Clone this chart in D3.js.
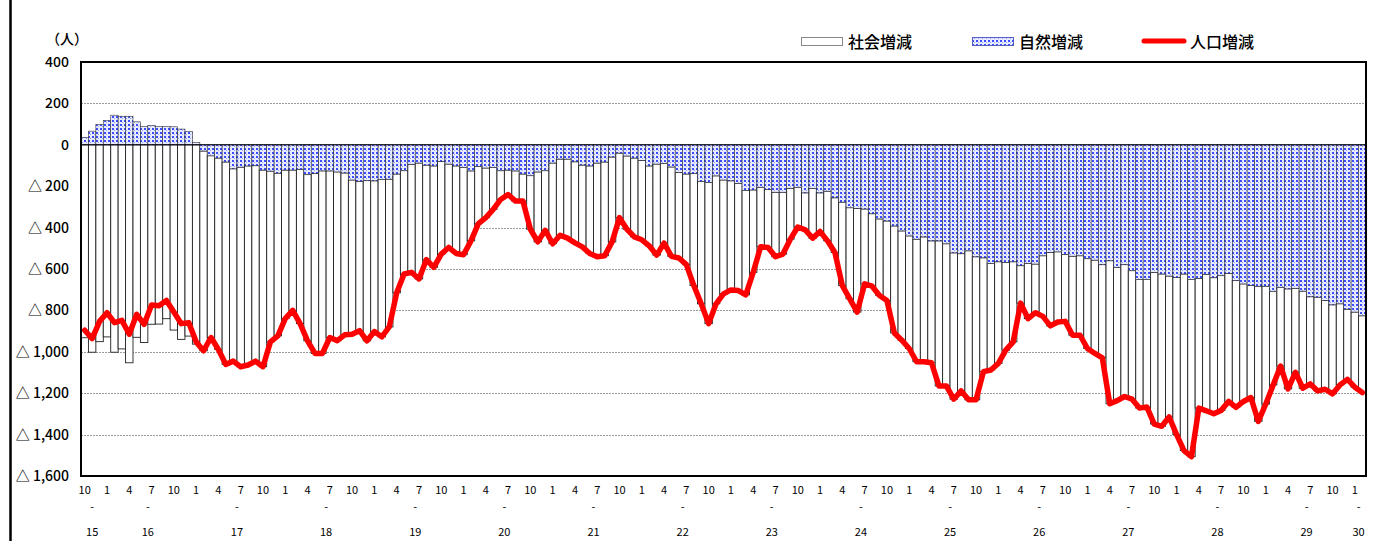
<!DOCTYPE html>
<html><head><meta charset="utf-8">
<script src="https://cdn.jsdelivr.net/npm/d3@7"></script>
<style>
body{margin:0;background:#fff;}
svg{display:block;font-family:"Noto Sans CJK JP","Noto Sans",sans-serif;}
</style>
</head><body>
<svg id="c" width="1382" height="541"></svg>
<script>
// ---- data (Heisei years, monthly, Oct H15 .. Feb H30) ----
const startYear = 15, startMonth = 10;
const monthTickLabels = [10, 1, 4, 7];
const yearLabels = [15,16,17,18,19,20,21,22,23,24,25,26,27,28,29,30];
const yTicks = [400,200,0,-200,-400,-600,-800,-1000,-1200,-1400,-1600];
const seriesNames = ["社会増減", "自然増減", "人口増減"];
const unitLabel = "（人）";

const social = [
 -932,-1002,-951,-928,-1002,-986,-1053,-930,-955,-867,-866,-840,-895,-940,-924,-963,-965,
 -878,-925,-978,-929,-964,-962,-944,-950,-825,-786,-718,-678,-746,-803,-869,-882,-805,-815,
 -782,-745,-722,-774,-728,-760,-714,-574,-499,-522,-560,-457,-490,-448,-403,-423,-422,-338,
 -277,-240,-203,-139,-118,-146,-131,-259,-338,-288,-390,-368,-382,-392,-395,-423,-453,
 -453,-410,-312,-354,-381,-384,-386,-440,-385,-432,-414,-438,-541,-592,-682,-618,-550,-527,
 -518,-504,-398,-288,-280,-312,-299,-246,-192,-179,-241,-187,-240,-264,-403,-440,-501,
 -362,-350,-370,-384,-517,-528,-544,-592,-603,-589,-701,-687,-707,-663,-720,-691,-550,-515,
 -491,-424,-387,-181,-267,-235,-293,-355,-339,-323,-382,-384,-434,-451,-450,-691,-644,
 -637,-621,-621,-616,-733,-736,-681,-760,-853,-856,-627,-659,-657,-651,-619,-613,-568,-541,
 -653,-570,-451,-381,-483,-406,-469,-421,-453,-429,-430,-392,-339,-363,-371
];
const natural = [
 36,66,98,117,143,138,138,111,88,93,88,88,87,76,65,11,-30,
 -53,-64,-83,-116,-108,-102,-101,-122,-127,-137,-122,-122,-118,-144,-139,-126,-126,-131,
 -136,-170,-176,-173,-174,-168,-166,-141,-125,-94,-88,-98,-102,-80,-93,-102,-109,-126,
 -104,-112,-109,-125,-122,-126,-141,-149,-131,-125,-88,-69,-69,-82,-98,-102,-88,
 -83,-59,-40,-54,-64,-75,-102,-93,-90,-107,-133,-141,-139,-176,-182,-150,-170,-174,
 -186,-221,-218,-205,-216,-229,-229,-210,-205,-232,-210,-232,-224,-256,-277,-304,-307,
 -310,-333,-358,-368,-392,-416,-440,-456,-445,-464,-464,-478,-522,-526,-512,-541,-546,-573,
 -565,-568,-565,-584,-573,-576,-536,-520,-517,-530,-538,-536,-550,-557,-579,-560,-592,
 -579,-608,-651,-651,-616,-624,-634,-640,-624,-651,-645,-626,-642,-632,-621,-656,-672,-680,
 -683,-683,-709,-688,-696,-693,-707,-734,-736,-752,-773,-768,-794,-808,-826
];
const population = [
 -896,-936,-853,-811,-859,-848,-915,-819,-867,-774,-778,-752,-808,-864,-859,-952,-995,
 -931,-989,-1061,-1045,-1072,-1064,-1045,-1072,-952,-923,-840,-800,-864,-947,-1008,-1008,-931,-946,
 -918,-915,-898,-947,-902,-928,-880,-715,-624,-616,-648,-555,-592,-528,-496,-525,-531,-464,
 -381,-352,-312,-264,-240,-272,-272,-408,-469,-413,-478,-437,-451,-474,-493,-525,-541,
 -536,-469,-352,-408,-445,-459,-488,-533,-475,-539,-547,-579,-680,-768,-864,-768,-720,-701,
 -704,-725,-616,-493,-496,-541,-528,-456,-397,-411,-451,-419,-464,-520,-680,-744,-808,
 -672,-683,-728,-752,-909,-944,-984,-1048,-1048,-1053,-1165,-1165,-1229,-1189,-1232,-1232,-1096,-1088,
 -1056,-992,-952,-765,-840,-811,-829,-875,-856,-853,-920,-920,-984,-1008,-1029,-1251,-1236,
 -1216,-1229,-1272,-1267,-1349,-1360,-1315,-1400,-1477,-1507,-1272,-1285,-1299,-1283,-1240,-1269,-1240,-1221,
 -1336,-1253,-1160,-1069,-1179,-1099,-1176,-1155,-1189,-1181,-1203,-1160,-1133,-1171,-1197
];

// categories: one per month
const categories = social.map((_, i) => {
  const k = startMonth - 1 + i;
  return { year: startYear + Math.floor(k / 12), month: (k % 12) + 1, idx: i };
});

const svg = d3.select("#c");
const L = 81, R = 1366, T = 62, B = 476;

const x = d3.scaleBand().domain(categories.map(d => d.idx)).range([L, R]).padding(0);
const y = d3.scaleLinear().domain([-1600, 400]).range([B, T]);

// pattern
const defs = svg.append("defs");
const pat = defs.append("pattern").attr("id", "dots").attr("patternUnits", "userSpaceOnUse")
  .attr("width", 4).attr("height", 4);
pat.append("rect").attr("width", 4).attr("height", 4).attr("fill", "#e8eaff");
pat.append("rect").attr("x", 0).attr("y", 0).attr("width", 2).attr("height", 2).attr("fill", "#3a4dff");
pat.append("rect").attr("x", 2).attr("y", 2).attr("width", 1).attr("height", 1).attr("fill", "#9aa3ff");

// outer left border line
svg.append("line").attr("x1", 10.5).attr("x2", 10.5).attr("y1", 0).attr("y2", 541)
  .attr("stroke", "#000").attr("stroke-width", 2.5);

// gridlines
svg.append("g").selectAll("line").data(yTicks.filter(v => v !== 400 && v !== -1600 && v !== 0))
  .join("line")
  .attr("x1", L).attr("x2", R).attr("y1", d => Math.round(y(d)) + 0.5).attr("y2", d => Math.round(y(d)) + 0.5)
  .attr("stroke", "#9a9a9a").attr("stroke-width", 1).attr("stroke-dasharray", "2,1");

// bars
const bars = svg.append("g");
categories.forEach((c, i) => {
  const n = natural[i], s = social[i];
  const base = Math.min(0, n);
  const x0 = x(c.idx), w = x.bandwidth();
  bars.append("rect")
    .attr("x", x0).attr("width", w)
    .attr("y", y(base)).attr("height", y(base + s) - y(base))
    .attr("fill", "#fff").attr("stroke", "#222").attr("stroke-width", 0.9);
  bars.append("rect")
    .attr("x", x0).attr("width", w)
    .attr("y", y(Math.max(0, n))).attr("height", Math.abs(y(n) - y(0)))
    .attr("fill", "url(#dots)").attr("stroke", "#333").attr("stroke-width", 0.6);
});

// zero line
svg.append("line").attr("x1", L).attr("x2", R).attr("y1", y(0)).attr("y2", y(0))
  .attr("stroke", "#000").attr("stroke-width", 1);

// population line
const line = d3.line().x((d, i) => x(i) + x.bandwidth() / 2).y(d => y(d)).curve(d3.curveLinear);
svg.append("path").datum(population).attr("d", line)
  .attr("fill", "none").attr("stroke", "#ff0000").attr("stroke-width", 5.5)
  .attr("stroke-linejoin", "round").attr("stroke-linecap", "round");

// plot frame
svg.append("rect").attr("x", L).attr("y", T).attr("width", R - L).attr("height", B - T)
  .attr("fill", "none").attr("stroke", "#000").attr("stroke-width", 2);

// y axis labels
const fmt = d3.format(",");
svg.append("g").selectAll("text").data(yTicks).join("text")
  .attr("x", 69).attr("y", d => y(d)).attr("dy", "0.36em")
  .attr("text-anchor", "end").attr("font-size", 14).attr("font-weight", 500).attr("fill", "#000")
  .text(d => d < 0 ? "△ " + fmt(-d) : fmt(d));

svg.append("text").attr("x", 46).attr("y", 39).attr("dy", "0.36em")
  .attr("font-size", 14).attr("font-weight", 500).text(unitLabel);

// x month labels
svg.append("g").selectAll("text")
  .data(categories.filter(c => monthTickLabels.includes(c.month)))
  .join("text")
  .attr("x", c => x(c.idx) + x.bandwidth() / 2).attr("y", 490).attr("dy", "0.36em")
  .attr("text-anchor", "middle").attr("font-size", 11).text(c => c.month);

// year labels
const yearPos = yearLabels.map(yr => {
  const cs = categories.filter(c => c.year === yr);
  return { yr, x: d3.mean(cs, c => x(c.idx) + x.bandwidth() / 2) };
});
const yg = svg.append("g");
yg.selectAll("text.dash").data(yearPos).join("text").attr("class", "dash")
  .attr("x", d => d.x).attr("y", 507).attr("dy", "0.36em")
  .attr("text-anchor", "middle").attr("font-size", 11).text("-");
yg.selectAll("text.yr").data(yearPos).join("text").attr("class", "yr")
  .attr("x", d => d.x).attr("y", 532).attr("dy", "0.36em")
  .attr("text-anchor", "middle").attr("font-size", 11).text(d => d.yr);

// legend
const lg = svg.append("g");
lg.append("rect").attr("x", 801.5).attr("y", 37.5).attr("width", 41).attr("height", 8)
  .attr("fill", "#fff").attr("stroke", "#888").attr("stroke-width", 1);
lg.append("text").attr("x", 848).attr("y", 42).attr("dy", "0.36em").attr("font-size", 16)
  .attr("font-weight", 500).text(seriesNames[0]);
lg.append("rect").attr("x", 972.5).attr("y", 37.5).attr("width", 41).attr("height", 8)
  .attr("fill", "url(#dots)").attr("stroke", "#5560c0").attr("stroke-width", 1);
lg.append("text").attr("x", 1019).attr("y", 42).attr("dy", "0.36em").attr("font-size", 16)
  .attr("font-weight", 500).text(seriesNames[1]);
lg.append("line").attr("x1", 1144).attr("x2", 1184).attr("y1", 41).attr("y2", 41)
  .attr("stroke", "#ff0000").attr("stroke-width", 5).attr("stroke-linecap", "round");
lg.append("text").attr("x", 1190).attr("y", 42).attr("dy", "0.36em").attr("font-size", 16)
  .attr("font-weight", 500).text(seriesNames[2]);
</script>
</body></html>
